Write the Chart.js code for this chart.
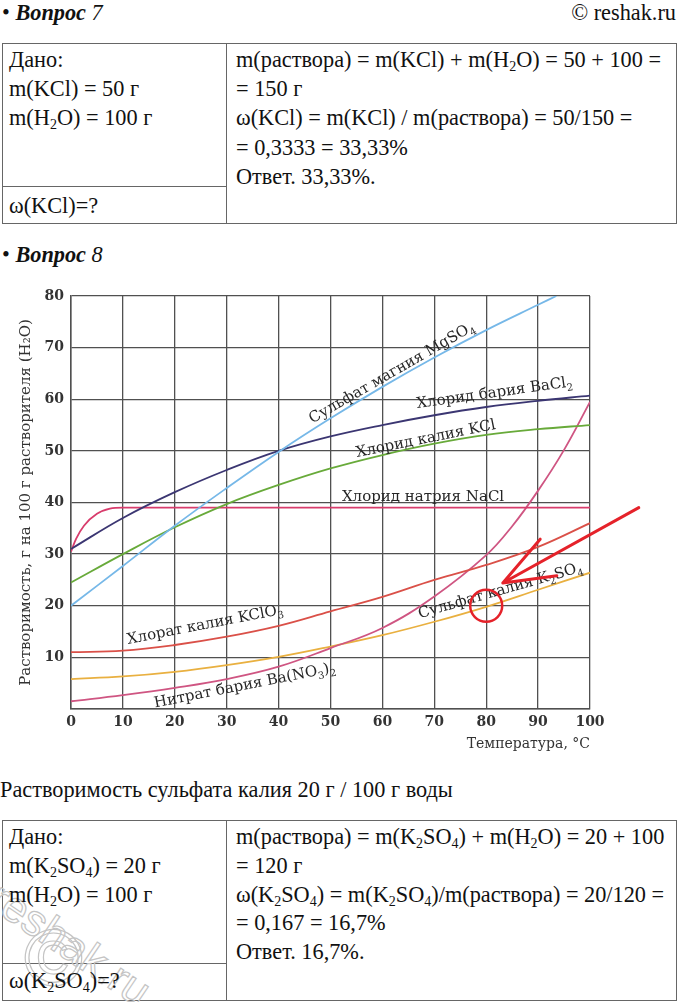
<!DOCTYPE html>
<html lang="ru">
<head>
<meta charset="utf-8">
<title>Вопрос 7, Вопрос 8</title>
<script src="https://cdn.jsdelivr.net/npm/chart.js@4.4.1/dist/chart.umd.min.js"></script>
<style>
  html, body { margin: 0; padding: 0; background: #fff; }
  body {
    width: 680px; height: 1002px; position: relative; overflow: hidden;
    font-family: "Liberation Serif", "Times New Roman", serif; font-size: 22.3px; color: #111;
  }
  .t { position: absolute; white-space: nowrap; line-height: 26px; }
  sub { font-size: 14px; vertical-align: -4px; line-height: 0; }
  .box { position: absolute; border: 1.5px solid #666; box-sizing: border-box; }
  .vl { position: absolute; width: 0; border-left: 1.5px solid #666; }
  .hl { position: absolute; height: 0; border-top: 1.5px solid #666; }
  .wm { position: absolute; white-space: nowrap; color: transparent;
        -webkit-text-stroke: 1.2px #c4c4c4; font-family: "Liberation Sans", Arial, sans-serif; }
  #chart-canvas { position: absolute; left: 0; top: 270px; }
</style>
</head>
<body>

<!-- Вопрос 7 -->
<div class="t" style="left:2px; top:0px;">• <b><i>Вопрос</i></b><i> 7</i></div>
<div class="t" style="right:4px; top:0px;">© reshak.ru</div>

<div class="box" style="left:2px; top:43px; width:675px; height:181px;"></div>
<div class="vl" style="left:226px; top:43px; height:181px;"></div>
<div class="hl" style="left:2px; top:186px; width:225px;"></div>

<div class="t" style="left:9px; top:47px;">Дано:</div>
<div class="t" style="left:9px; top:76px;">m(KCl) = 50 г</div>
<div class="t" style="left:9px; top:105px;">m(H<sub>2</sub>O) = 100 г</div>
<div class="t" style="left:9px; top:193px;">ω(KCl)=?</div>

<div class="t" style="left:236px; top:47px;">m(раствора) = m(KCl) + m(H<sub>2</sub>O) = 50 + 100 =</div>
<div class="t" style="left:236px; top:76px;">= 150 г</div>
<div class="t" style="left:236px; top:105px;">ω(KCl) = m(KCl) / m(раствора) = 50/150 =</div>
<div class="t" style="left:236px; top:135px;">= 0,3333 = 33,33%</div>
<div class="t" style="left:236px; top:164px;">Ответ. 33,33%.</div>

<!-- Вопрос 8 -->
<div class="t" style="left:2px; top:242px;">• <b><i>Вопрос</i></b><i> 8</i></div>

<canvas id="chart-canvas" width="680" height="490"></canvas>

<div class="t" style="left:0px; top:777px;">Растворимость сульфата калия 20 г / 100 г воды</div>

<div class="box" style="left:2px; top:820px; width:675px; height:181px;"></div>
<div class="vl" style="left:226px; top:820px; height:181px;"></div>
<div class="hl" style="left:2px; top:963px; width:225px;"></div>

<div class="wm" style="left:8px; top:872px; font-size:44px; transform:rotate(34deg); transform-origin:left top;">reshak.ru</div>
<div class="wm" style="left:24px; top:918px; font-size:80px; line-height:80px;">©</div>

<div class="t" style="left:9px; top:824px;">Дано:</div>
<div class="t" style="left:9px; top:853px;">m(K<sub>2</sub>SO<sub>4</sub>) = 20 г</div>
<div class="t" style="left:9px; top:882px;">m(H<sub>2</sub>O) = 100 г</div>
<div class="t" style="left:9px; top:968px;">ω(K<sub>2</sub>SO<sub>4</sub>)=?</div>

<div class="t" style="left:236px; top:824px;">m(раствора) = m(K<sub>2</sub>SO<sub>4</sub>) + m(H<sub>2</sub>O) = 20 + 100</div>
<div class="t" style="left:236px; top:853px;">= 120 г</div>
<div class="t" style="left:236px; top:882px;">ω(K<sub>2</sub>SO<sub>4</sub>) = m(K<sub>2</sub>SO<sub>4</sub>)/m(раствора) = 20/120 =</div>
<div class="t" style="left:236px; top:910px;">= 0,167 = 16,7%</div>
<div class="t" style="left:236px; top:939px;">Ответ. 16,7%.</div>

<script>
// ------------------------------------------------------------
// DATA: растворимость, г на 100 г воды
// ------------------------------------------------------------
const xTicks = [0, 10, 20, 30, 40, 50, 60, 70, 80, 90, 100];
const yTicks = [0, 10, 20, 30, 40, 50, 60, 70, 80];
const yTickLabels = ['', '10', '20', '30', '40', '50', '60', '70', '80'];

const temps = [0, 10, 20, 30, 40, 50, 60, 70, 80, 90, 100];

const mgso4Temps = [0, 10, 20, 30, 40, 50, 60, 70, 80, 90, 93.5];
const mgso4 = [20, 27.7, 35.5, 42.8, 49.8, 56.3, 62.4, 68.1, 73.4, 78.3, 80];
const bacl2 = [31, 37, 42, 46.3, 50, 52.8, 55, 56.9, 58.5, 59.7, 60.7];
const kcl = [24.5, 30, 35.2, 39.7, 43.4, 46.6, 49.2, 51.4, 53.1, 54.2, 55];
const naclTemps = [0, 1, 2.5, 5, 7.5, 10, 20, 40, 60, 80, 100];
const nacl = [30.5, 33, 35.5, 37.8, 38.8, 39, 39, 39, 39, 39, 39];
const kclo3 = [11, 11.3, 12.4, 14, 16.1, 18.9, 21.7, 25, 27.9, 31.4, 36];
const bano3Temps = [0, 10, 20, 30, 40, 50, 60, 70, 80, 85, 90, 95, 100];
const bano3 = [1.5, 2.7, 4.1, 5.8, 8.2, 11.8, 15.7, 21.8, 29.8, 35.4, 42.3, 50.2, 59.5];
const k2so4 = [5.8, 6.3, 7.2, 8.5, 10.1, 12.1, 14.3, 16.9, 19.8, 23.1, 26.4];

// curve captions, anchored in data units (start of baseline); _n = subscript
const curveLabels = [
  { text: 'Сульфат магния MgSO_4', x: 46.5, y: 55.3, angle: -30 },
  { text: 'Хлорид бария BaCl_2', x: 66.7, y: 58.3, angle: -8 },
  { text: 'Хлорид калия KCl', x: 55.1, y: 48.8, angle: -11.5 },
  { text: 'Хлорид натрия NaCl', x: 52.2, y: 40.3, angle: 0 },
  { text: 'Хлорат калия KClO_3', x: 11, y: 12.6, angle: -11 },
  { text: 'Нитрат бария Ba(NO_3)_2', x: 16.2, y: 0.3, angle: -11.2 },
  { text: 'Сульфат калия K_2SO_4', x: 67.2, y: 17.6, angle: -16 },
];

// red pointer to K2SO4 at 80 °C
const markCircle = { x: 80, y: 20 };
const arrowTail = { x: 109.4, y: 39 };
const arrowTip = { x: 83.2, y: 24.4 };
const arrowHeads = [{ x: 90.4, y: 32.9 }, { x: 93.6, y: 25.8 }];

const toPoints = (xs, ys) => xs.map((x, i) => ({ x, y: ys[i] }));

const serif = 'DejaVu Serif';

const series = (label, xs, ys, color, mode) => ({
  label, data: toPoints(xs, ys),
  borderColor: color, borderWidth: 1.8,
  showLine: true, pointRadius: 0, fill: false,
  tension: 0.4, cubicInterpolationMode: mode || 'default',
});

// text with simple subscripts: "MgSO_4"
function drawRich(ctx, text) {
  let x = 0;
  text.split(/(_\d)/).forEach(part => {
    if (!part) return;
    if (part[0] === '_') {
      ctx.font = `10px "${serif}"`;
      ctx.fillText(part[1], x, 4);
      x += ctx.measureText(part[1]).width;
    } else {
      ctx.font = `15px "${serif}"`;
      ctx.fillText(part, x, 0);
      x += ctx.measureText(part).width;
    }
  });
}

// captions + red marks
const annotationsPlugin = {
  id: 'annotations',
  afterDatasetsDraw(chart) {
    const { ctx, scales: { x, y } } = chart;
    ctx.save();
    ctx.fillStyle = '#262626';
    ctx.textAlign = 'left';
    ctx.textBaseline = 'alphabetic';
    curveLabels.forEach(l => {
      ctx.save();
      ctx.translate(x.getPixelForValue(l.x), y.getPixelForValue(l.y));
      ctx.rotate(l.angle * Math.PI / 180);
      drawRich(ctx, l.text);
      ctx.restore();
    });

    ctx.strokeStyle = '#e5222a';
    ctx.lineCap = 'round';
    ctx.lineWidth = 2.5;
    ctx.beginPath();
    ctx.arc(x.getPixelForValue(markCircle.x), y.getPixelForValue(markCircle.y), 16, 0, Math.PI * 2);
    ctx.stroke();

    ctx.lineWidth = 3;
    const tip = [x.getPixelForValue(arrowTip.x), y.getPixelForValue(arrowTip.y)];
    ctx.beginPath();
    ctx.moveTo(x.getPixelForValue(arrowTail.x), y.getPixelForValue(arrowTail.y));
    ctx.lineTo(tip[0], tip[1]);
    arrowHeads.forEach(h => {
      ctx.moveTo(x.getPixelForValue(h.x), y.getPixelForValue(h.y));
      ctx.lineTo(tip[0], tip[1]);
    });
    ctx.stroke();
    ctx.restore();
  }
};

new Chart(document.getElementById('chart-canvas'), {
  type: 'scatter',
  data: {
    datasets: [
      series('MgSO₄', mgso4Temps, mgso4, '#76b8e8'),
      series('BaCl₂', temps, bacl2, '#3b3672'),
      series('KCl', temps, kcl, '#68aa3a'),
      series('NaCl', naclTemps, nacl, '#d83c6c', 'monotone'),
      series('KClO₃', temps, kclo3, '#da5048'),
      series('Ba(NO₃)₂', bano3Temps, bano3, '#cf5582'),
      series('K₂SO₄', temps, k2so4, '#e9b040'),
    ]
  },
  options: {
    responsive: false,
    animation: false,
    layout: { padding: { top: 26, right: 90, left: 0, bottom: 0 } },
    plugins: { legend: { display: false }, tooltip: { enabled: false } },
    scales: {
      x: {
        type: 'linear', min: 0, max: 100,
        afterFit: s => { s.height = 51; },
        afterBuildTicks: s => { s.ticks = xTicks.map(v => ({ value: v })); },
        ticks: { font: { family: serif, size: 14, weight: 'bold' }, color: '#333', padding: 5, maxRotation: 0, autoSkip: false },
        grid: { color: '#505050', lineWidth: 1.3, drawTicks: false },
        border: { color: '#505050', width: 1.5 },
        title: {
          display: true, text: 'Температура, °C', align: 'end',
          font: { family: serif, size: 14 }, color: '#333', padding: { top: 0, bottom: 7 }
        }
      },
      y: {
        type: 'linear', min: 0, max: 80,
        afterFit: s => { s.width = 71; },
        afterBuildTicks: s => { s.ticks = yTicks.map(v => ({ value: v })); },
        ticks: {
          font: { family: serif, size: 14, weight: 'bold' }, color: '#333', padding: 7,
          callback: (v, i) => yTickLabels[i]
        },
        grid: { color: '#505050', lineWidth: 1.3, drawTicks: false },
        border: { color: '#505050', width: 1.5 },
        title: {
          display: true, text: 'Растворимость, г на 100 г растворителя (H₂O)',
          font: { family: serif, size: 15 }, color: '#333', padding: { top: 17, bottom: 0 }
        }
      }
    }
  },
  plugins: [annotationsPlugin]
});
</script>
</body>
</html>
